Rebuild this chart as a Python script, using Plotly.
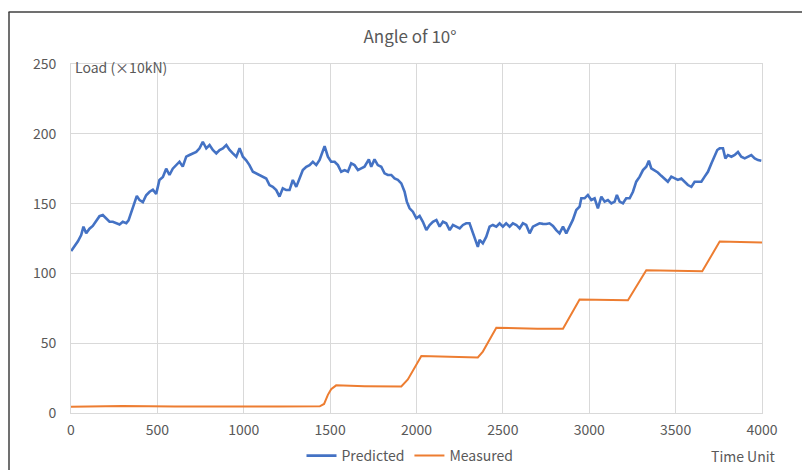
import plotly.graph_objects as go

# Predicted load (x10kN) against time unit
pred_t = [1, 20, 40, 59, 72, 88, 107, 126, 146, 165, 184, 204, 223, 242, 262, 281, 300, 320, 333, 348,
          368, 381, 397, 416, 435, 455, 474, 493, 512, 532, 551, 570, 589, 609, 628, 647, 667, 686, 705, 725,
          744, 763, 783, 802, 821, 841, 860, 879, 899, 918, 937, 957, 976, 995, 1014, 1033, 1053, 1072, 1091, 1111,
          1130, 1149, 1168, 1188, 1207, 1226, 1246, 1265, 1284, 1304, 1323, 1342, 1362, 1381, 1400, 1420, 1439, 1454, 1468, 1487,
          1506, 1526, 1545, 1564, 1584, 1603, 1622, 1641, 1661, 1680, 1699, 1724, 1738, 1757, 1776, 1796, 1815, 1834, 1854, 1873,
          1892, 1912, 1931, 1944, 1960, 1979, 1999, 2018, 2037, 2057, 2076, 2095, 2115, 2134, 2153, 2172, 2192, 2211, 2230, 2250,
          2269, 2288, 2307, 2327, 2346, 2355, 2365, 2384, 2404, 2423, 2442, 2462, 2481, 2500, 2519, 2539, 2558, 2578, 2597, 2616,
          2635, 2655, 2674, 2693, 2712, 2732, 2751, 2770, 2790, 2809, 2828, 2848, 2867, 2886, 2905, 2925, 2944, 2954, 2973, 2992,
          3012, 3031, 3050, 3070, 3089, 3108, 3128, 3147, 3160, 3176, 3195, 3214, 3234, 3253, 3272, 3292, 3311, 3330, 3345, 3359,
          3378, 3397, 3417, 3436, 3455, 3475, 3494, 3513, 3533, 3552, 3571, 3591, 3610, 3629, 3649, 3668, 3687, 3707, 3726, 3741,
          3755, 3774, 3788, 3803, 3823, 3842, 3861, 3880, 3900, 3919, 3938, 3958, 3977, 3996]
pred_v = [116, 119, 123, 127.5, 133.5, 128.7, 132, 134, 138, 141, 141.8, 139.5, 137, 137, 136, 135, 137, 136, 138, 143,
          150, 155.5, 152.5, 151, 156, 158.5, 160, 157, 167, 169, 175, 170.5, 175, 177.6, 180, 176.5, 183.6, 184.8, 186, 187,
          189.6, 194.3, 189.6, 192, 188.4, 186, 188.4, 189.6, 192, 188.4, 186, 183.6, 189.6, 183.6, 181, 177.6, 172.8, 171.7, 170.5, 169.3,
          168, 163.3, 162, 159.7, 155, 161, 159.7, 159.7, 166.9, 162, 167.5, 174, 176.4, 177.6, 180, 177.6, 181.2, 187, 191.2, 183.6,
          180, 180, 177.6, 172.8, 174, 172.8, 178.8, 177.6, 174, 175.2, 176.4, 181.7, 176.4, 181.7, 177.6, 176.4, 171.7, 170.5, 170.5, 168,
          167, 164.5, 158.5, 151.4, 146.6, 144.2, 139.5, 141.2, 137, 131, 134.7, 137, 138.3, 133.5, 137, 135.9, 131, 134.7, 133.5, 132.3,
          134.7, 135.9, 135.9, 128.7, 122.7, 119, 124, 121.6, 126.3, 133.5, 134.7, 133.5, 135.9, 133.5, 135.9, 133.5, 135.9, 134.7, 132.3, 135.9,
          134.7, 128.7, 133.5, 134.7, 135.9, 135.5, 135.4, 135.9, 134, 131, 128.7, 133.5, 128.7, 133.5, 138.3, 145.4, 147.8, 153.8, 153.8, 156.2,
          152.6, 153.8, 146.6, 155, 151.4, 152.6, 150.2, 151.4, 156.2, 151.4, 150.2, 153.8, 153.8, 158.5, 165.7, 169.3, 174, 176.4, 180.7, 175.2,
          174, 172.3, 169.9, 168, 165.7, 169.3, 168, 167, 168, 165.7, 163.3, 162, 165.7, 165.7, 165.7, 169.3, 172.8, 178.8, 183.6, 188.4,
          189.6, 189.6, 182.4, 184.8, 183.6, 184.8, 187, 183.6, 182.4, 183.6, 184.8, 182.4, 181.2, 180.7]

# Measured load (x10kN) against time unit
meas_t = [0, 300, 600, 900, 1200, 1440, 1465, 1487, 1506, 1535, 1700, 1912, 1950, 2028, 2200, 2355,
          2384, 2462, 2700, 2848, 2944, 3224, 3330, 3654, 3755, 4000]
meas_v = [4.5, 5, 4.6, 4.9, 4.7, 4.8, 6.5, 13, 17, 19.8, 19.2, 19, 24, 40.8, 40, 39.8,
          44, 61, 60.4, 60.3, 81.3, 80.8, 102.2, 101.5, 122.8, 122.1]

x_ticks = [0, 500, 1000, 1500, 2000, 2500, 3000, 3500, 4000]
y_ticks = [0, 50, 100, 150, 200, 250]

FONT = "Noto Sans CJK SC"
TXT = "#595959"
GRID = "#d9d9d9"

fig = go.Figure()
fig.add_trace(go.Scatter(x=pred_t, y=pred_v, mode="lines", name="Predicted",
                         line=dict(color="#4472C4", width=2.6)))
fig.add_trace(go.Scatter(x=meas_t, y=meas_v, mode="lines", name="Measured",
                         line=dict(color="#ED7D31", width=2)))

L, R, T, B = 71, 40, 64, 57
W, H = 802 - L - R, 470 - T - B


def px_x(p):
    return (p - L) / W


def px_y(p):
    return (470 - B - p) / H


fig.update_layout(
    width=802, height=470,
    margin=dict(l=L, r=R, t=T, b=B, autoexpand=False),
    paper_bgcolor="white", plot_bgcolor="white",
    font=dict(family=FONT, color=TXT, size=14),
    title=dict(text="Angle of 10°", x=410 / 802, xref="container", xanchor="center",
               y=1 - 37 / 470, yref="container", yanchor="middle",
               font=dict(family=FONT, size=17, color=TXT)),
    xaxis=dict(range=[0, 4000], tickvals=x_ticks, showgrid=True, gridcolor=GRID, gridwidth=1,
               showline=True, linecolor=GRID, linewidth=1, mirror=True, zeroline=False,
               ticks="", ticklabelstandoff=4, tickfont=dict(size=14, color=TXT)),
    yaxis=dict(range=[0, 250], tickvals=y_ticks, showgrid=True, gridcolor=GRID, gridwidth=1,
               showline=True, linecolor=GRID, linewidth=1, mirror=True, zeroline=False,
               ticks="", ticklabelstandoff=11, tickfont=dict(size=14, color=TXT)),
    legend=dict(orientation="h", x=px_x(410), xanchor="center", y=px_y(456), yanchor="middle",
                font=dict(size=14, color=TXT), bgcolor="rgba(0,0,0,0)", itemwidth=30,
                tracegroupgap=0),
    showlegend=True,
)

fig.add_annotation(text="Load (×10kN)", x=px_x(73), y=px_y(67), xref="paper", yref="paper",
                   xanchor="left", yanchor="middle", showarrow=False,
                   font=dict(family=FONT, size=14, color=TXT))
fig.add_annotation(text="Time Unit", x=px_x(778), y=px_y(456), xref="paper", yref="paper",
                   xanchor="right", yanchor="middle", showarrow=False,
                   font=dict(family=FONT, size=14, color=TXT))

# outer chart frame (top and left edges)
frame = dict(color="#404040", width=1.5)
fig.add_shape(type="line", xref="paper", yref="paper", x0=px_x(8.5), x1=px_x(802),
              y0=px_y(12), y1=px_y(12), line=frame)
fig.add_shape(type="line", xref="paper", yref="paper", x0=px_x(9), x1=px_x(9),
              y0=px_y(12), y1=px_y(470), line=frame)

fig.write_html("out.html")
